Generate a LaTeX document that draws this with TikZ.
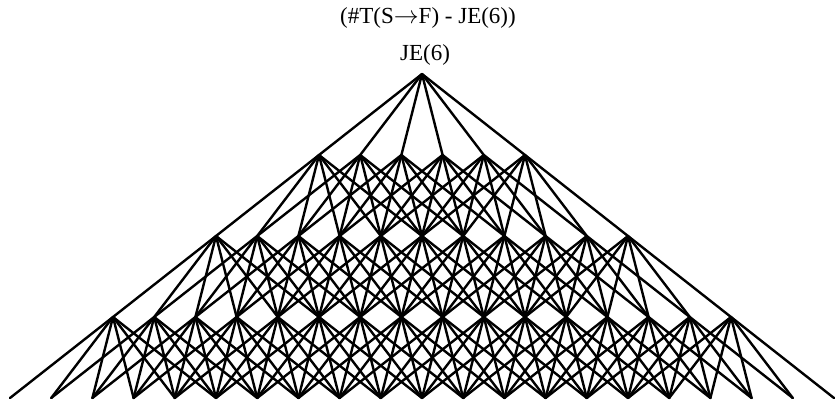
\documentclass[tikz,border=0pt]{standalone}
\usepackage{fontspec}
\setmainfont{Liberation Serif}
\begin{document}
\begin{tikzpicture}[x=1pt,y=-1pt,line width=2.4pt,
    lbl/.style={font=\fontsize{23}{26}\selectfont, inner sep=0pt},
    edge/.style={line cap=round}]
    \useasboundingbox (0,0) rectangle (836,402);

    % Labels
    \node[lbl] (title) at (428,18) {(\#T(S$\rightarrow$F) - JE(6))};
    \node[lbl] (root) at (425,55) {JE(6)};

    % Vertices, 1+5k on level k
    \foreach \k in {0,...,4}{
        \pgfmathtruncatemacro{\last}{5*\k}
        \foreach \i in {0,...,\last}{
            \coordinate (v\k-\i) at ({422+(\i-\last/2)*41.2},{74+81*\k});
        }
    }

    % Edges, each vertex to six below
    \foreach \k in {0,...,3}{
        \pgfmathtruncatemacro{\kk}{\k+1}
        \pgfmathtruncatemacro{\last}{5*\k}
        \foreach \i in {0,...,\last}{
            \foreach \d in {0,...,5}{
                \pgfmathtruncatemacro{\j}{\i+\d}
                \draw[edge] (v\k-\i) -- (v\kk-\j);
            }
        }
    }

\end{tikzpicture}
\end{document}
